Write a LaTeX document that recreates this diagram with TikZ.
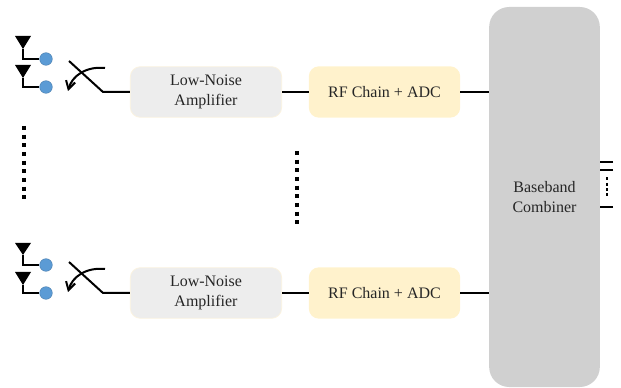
\documentclass[tikz,border=0pt]{standalone}
\usepackage{fontspec}
\setmainfont{Liberation Serif}
\usetikzlibrary{arrows.meta}
\definecolor{portblue}{HTML}{5B9BD5}
\definecolor{rffill}{HTML}{FFF2CC}
\definecolor{lnafill}{HTML}{EDEDED}
\definecolor{lnaedge}{HTML}{FBF3E0}
\definecolor{combfill}{HTML}{D0D0D0}
\tikzset{
  x=0.75pt,y=-0.75pt,
  wire/.style={line width=1.5pt,black,line join=miter},
  boxfont/.style={text=black!85,font=\fontsize{12}{14.5}\selectfont,align=center,inner sep=0pt},
  lnabox/.style={boxfont,draw=lnaedge,line width=0.6pt,fill=lnafill,rounded corners=7.5pt,minimum width=113.5pt,minimum height=38pt},
  rfbox/.style={boxfont,fill=rffill,rounded corners=7.5pt,minimum width=113.5pt,minimum height=38.5pt},
  combbox/.style={boxfont,fill=combfill,rounded corners=15pt,minimum width=83pt,minimum height=285pt},
  port/.style={circle,fill=portblue,draw=portblue!80!black,line width=0.3pt,minimum size=9.5pt,inner sep=0pt},
  anthead/.style={fill=black,draw=none},
  dotrow/.style={line width=3pt,dash pattern=on 3pt off 3.5pt},
  smalldots/.style={line width=2.2pt,dash pattern=on 2.2pt off 1.8pt},
}
\begin{document}
\begin{tikzpicture}
\useasboundingbox (0,0) rectangle (621,388);
\node[combbox] (comb) at (544.5,197) {\raisebox{0pt}{Baseband}\\Combiner};
\foreach \n/\yc in {u/92, d/293}{
  \node[lnabox] (lna\n) at (206,\yc) {Low-Noise\\Amplifier};
  \node[rfbox] (rf\n) at (384.5,\yc) {RF Chain + ADC};
  \draw[wire] (lna\n.east) -- (rf\n.west);
  \draw[wire] (rf\n.east) -- (rf\n.east -| comb.west);
}
% antennas
\node[port] (p1) at (46,59) {};
\node[port] (p2) at (46,87) {};
\node[port] (p3) at (46,265) {};
\node[port] (p4) at (46,293) {};
\coordinate (a1) at (23,49); \coordinate (a2) at (23,78);
\coordinate (a3) at (23,255); \coordinate (a4) at (23,285);
\fill[anthead] (15,36) -- (31,36) -- (a1) -- cycle;
\fill[anthead] (15,65) -- (31,65) -- (a2) -- cycle;
\fill[anthead] (15,243) -- (31,243) -- (a3) -- cycle;
\fill[anthead] (15,272) -- (31,272) -- (a4) -- cycle;
\draw[wire] (a1) |- (p1);
\draw[wire] (a2) |- (p2);
\draw[wire] (a3) |- (p3);
\draw[wire] (a4) |- (p4);
% switches
\coordinate (s1) at (69,61); \coordinate (k1) at (103,92);
\coordinate (s2) at (69,262); \coordinate (k2) at (103,293);
\draw[wire] (s1) -- (k1) -- (lnau.west);
\draw[wire] (s2) -- (k2) -- (lnad.west);
\coordinate (t1) at (105,68); \coordinate (e1) at (68,91);
\coordinate (t2) at (105,269); \coordinate (e2) at (68,292);
\draw[wire,-{Straight Barb[length=6pt,width=7pt]}] (t1) .. controls (86,66) and (72,76) .. (e1);
\draw[wire,-{Straight Barb[length=6pt,width=7pt]}] (t2) .. controls (86,267) and (72,277) .. (e2);
% dotted
\coordinate (v1) at (24,126); \coordinate (v2) at (24,199);
\coordinate (v3) at (297,151); \coordinate (v4) at (297,224);
\draw[dotrow] (v1) -- (v2);
\draw[dotrow] (v3) -- (v4);
% outputs
\coordinate (o1) at (613,162); \coordinate (o2) at (613,170); \coordinate (o3) at (613,207);
\draw[wire] (o1) -- (o1 -| comb.east);
\draw[wire] (o2) -- (o2 -| comb.east);
\draw[wire] (o3) -- (o3 -| comb.east);
\coordinate (w1) at (607,177.5); \coordinate (w2) at (607,197);
\draw[smalldots] (w1) -- (w2);
\end{tikzpicture}
\end{document}
